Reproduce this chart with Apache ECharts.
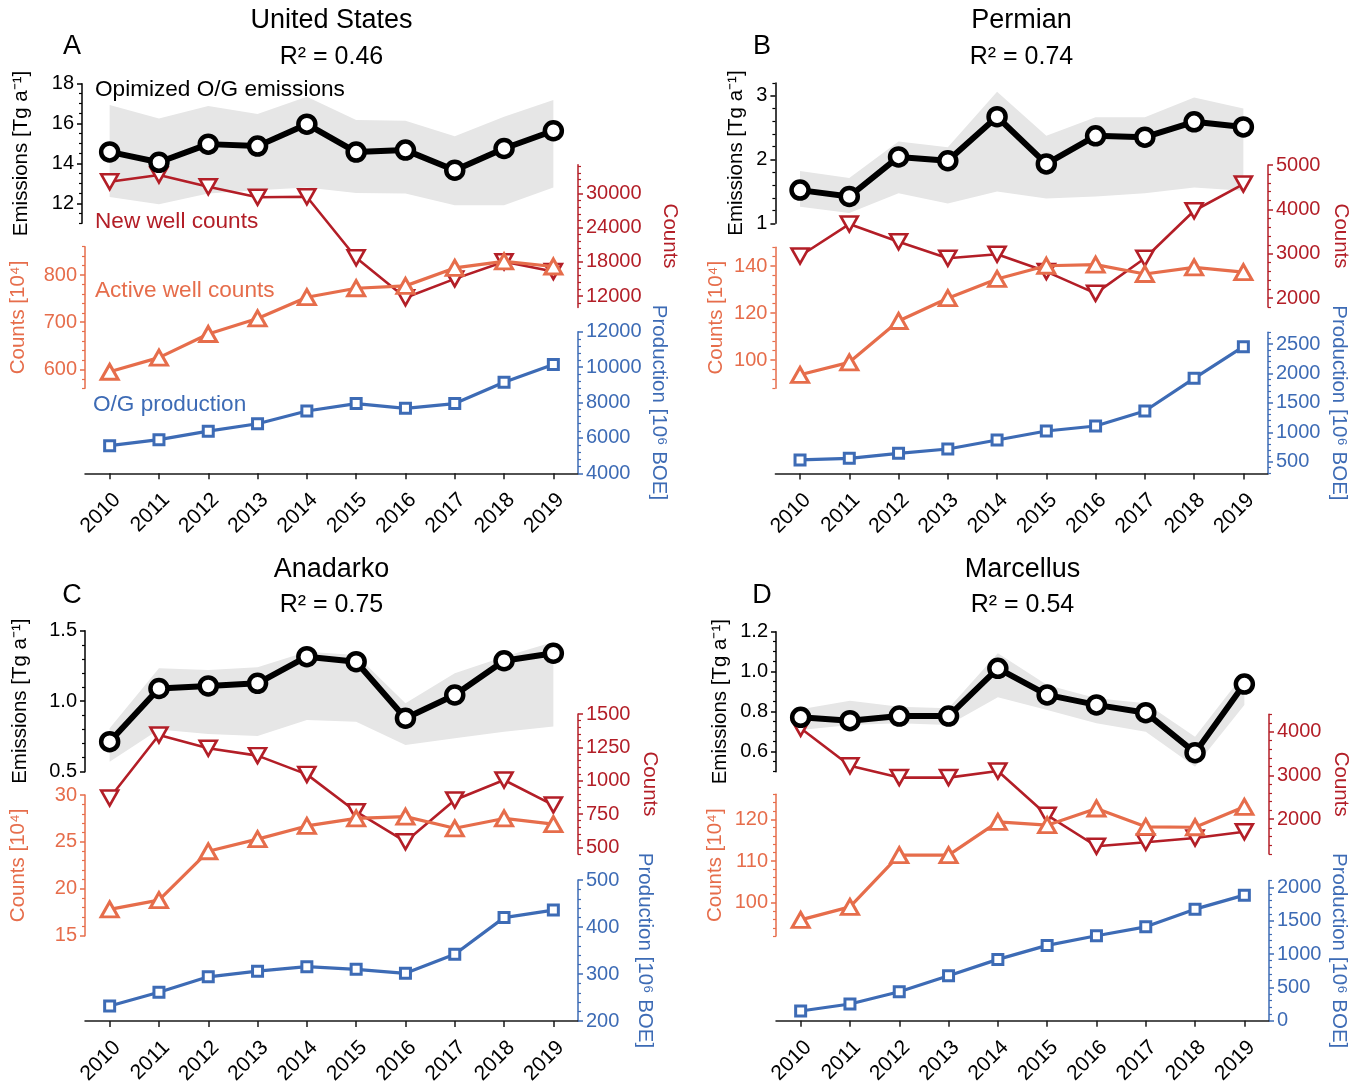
<!DOCTYPE html>
<html><head><meta charset="utf-8">
<script src="https://cdn.jsdelivr.net/npm/echarts@6/dist/echarts.min.js"></script>
<style>html,body{margin:0;padding:0;background:#fff}#c{width:1365px;height:1087px}</style>
</head><body><div id="c"></div><script>
const FONT = '"Liberation Sans", Arial, Helvetica, sans-serif';
const COLORS = {emis:'#000000', new:'#B31E27', active:'#E66D4B', prod:'#3D6BB5', band:'#E6E6E6', axis:'#1a1a1a'};

const years = ['2010','2011','2012','2013','2014','2015','2016','2017','2018','2019'];

// A: United States
const usEmis      = [14.58, 14.06, 14.97, 14.87, 15.97, 14.57, 14.67, 13.66, 14.75, 15.64];
const usEmisHigh  = [16.93, 16.26, 16.88, 16.48, 17.35, 16.18, 16.14, 15.37, 16.34, 17.18];
const usEmisLow   = [12.32, 11.95, 12.49, 12.66, 12.79, 12.52, 12.49, 11.90, 11.90, 12.79];
const usNewWells  = [32030, 33210, 31160, 29300, 29400, 18700, 11700, 15000, 18000, 16300];
const usActive    = [595, 625, 675, 708, 753, 772, 777, 815, 829, 818];
const usProd      = [5560, 5900, 6380, 6800, 7520, 7940, 7670, 7940, 9140, 10150];
const usEmisTicks = [12, 14, 16, 18];
const usNewTicks  = [12000, 18000, 24000, 30000];
const usActTicks  = [600, 700, 800];
const usProdTicks = [4000, 6000, 8000, 10000, 12000];

// B: Permian
const pmEmis      = [1.52, 1.42, 2.04, 1.98, 2.67, 1.93, 2.37, 2.35, 2.59, 2.51];
const pmEmisHigh  = [1.82, 1.71, 2.28, 2.19, 3.06, 2.37, 2.66, 2.66, 2.97, 2.80];
const pmEmisLow   = [1.26, 1.16, 1.47, 1.31, 1.50, 1.39, 1.42, 1.47, 1.56, 1.51];
const pmNewWells  = [2950, 3670, 3270, 2900, 2990, 2600, 2110, 2900, 3970, 4570];
const pmActive    = [93.7, 99.0, 116.6, 126.3, 134.5, 140.1, 140.6, 136.6, 139.4, 137.4];
const pmProd      = [530, 558, 643, 716, 869, 1022, 1107, 1362, 1918, 2455];
const pmEmisTicks = [1, 2, 3];
const pmNewTicks  = [2000, 3000, 4000, 5000];
const pmActTicks  = [100, 120, 140];
const pmProdTicks = [500, 1000, 1500, 2000, 2500];

// C: Anadarko
const anEmis      = [0.713, 1.090, 1.108, 1.127, 1.316, 1.280, 0.879, 1.044, 1.287, 1.340];
const anEmisHigh  = [0.808, 1.233, 1.221, 1.240, 1.350, 1.328, 0.985, 1.198, 1.316, 1.420];
const anEmisLow   = [0.571, 0.800, 0.767, 0.753, 0.867, 0.855, 0.689, 0.737, 0.784, 0.820];
const anNewWells  = [870, 1342, 1243, 1188, 1047, 767, 542, 855, 1005, 817];
const anActive    = [17.8, 18.8, 24.0, 25.3, 26.7, 27.5, 27.7, 26.45, 27.5, 26.9];
const anProd      = [232, 261, 294, 306, 315.5, 310, 301.5, 342, 420, 436];
const anEmisTicks = [0.5, 1.0, 1.5];
const anNewTicks  = [500, 750, 1000, 1250, 1500];
const anActTicks  = [15, 20, 25, 30];
const anProdTicks = [200, 300, 400, 500];

// D: Marcellus
const mcEmis      = [0.772, 0.755, 0.778, 0.778, 1.017, 0.884, 0.834, 0.795, 0.595, 0.938];
const mcEmisHigh  = [0.812, 0.855, 0.825, 0.817, 1.092, 0.934, 0.867, 0.842, 0.675, 0.992];
const mcEmisLow   = [0.708, 0.733, 0.742, 0.733, 0.872, 0.809, 0.742, 0.700, 0.525, 0.834];
const mcNewWells  = [4080, 3220, 2950, 2950, 3100, 2090, 1380, 1470, 1570, 1710];
const mcActive    = [95.9, 99.0, 111.4, 111.4, 119.4, 118.6, 122.6, 118.2, 118.1, 123.0];
const mcProd      = [145, 250, 434, 674, 919, 1129, 1273, 1407, 1672, 1882];
const mcEmisTicks = [0.6, 0.8, 1.0, 1.2];
const mcNewTicks  = [2000, 3000, 4000];
const mcActTicks  = [100, 110, 120];
const mcProdTicks = [0, 500, 1000, 1500, 2000];

const NAMES = {emis:'Emissions [Tg a\u207B\u00B9]', new:'Counts', active:'Counts [10\u2074]', prod:'Production [10\u2076 BOE]'};

const panels = [
  {title:'United States', r2:'R\u00B2 = 0.46', letter:'A', left:85, width:493, cx:331.5, tY:21, rY:57, lX:72, lY:47,
   data:{emis:usEmis, high:usEmisHigh, low:usEmisLow, new:usNewWells, active:usActive, prod:usProd},
   ticks:{emis:usEmisTicks, new:usNewTicks, active:usActTicks, prod:usProdTicks},
   axes:{emis:{min:11,max:18,top:83.7,bottom:223.3,minor:0.5,side:'left',offset:3,gap:50,dec:0},
         new:{min:10000,max:35000,top:164.8,bottom:307.4,minor:1200,side:'right',gap:81,dec:0},
         active:{min:560,max:860,top:246.7,bottom:388.3,minor:20,side:'left',gap:56,dec:0},
         prod:{min:4000,max:12000,top:331.7,bottom:473.3,minor:400,side:'right',gap:70,dec:0}}},
  {title:'Permian', r2:'R\u00B2 = 0.74', letter:'B', left:775.4, width:492.6, cx:1021.5, tY:21, rY:57, lX:762, lY:47,
   data:{emis:pmEmis, high:pmEmisHigh, low:pmEmisLow, new:pmNewWells, active:pmActive, prod:pmProd},
   ticks:{emis:pmEmisTicks, new:pmNewTicks, active:pmActTicks, prod:pmProdTicks},
   axes:{emis:{min:1,max:3.2,top:82.9,bottom:223.3,minor:0.2,side:'left',gap:29,dec:0},
         new:{min:1800,max:5000,top:165,bottom:307.1,minor:200,side:'right',gap:62,dec:0},
         active:{min:88,max:148,top:247.2,bottom:388.2,minor:4,side:'left',gap:49,dec:0},
         prod:{min:300,max:2700,top:332.3,bottom:473.5,minor:100,side:'right',gap:60,dec:0}}},
  {title:'Anadarko', r2:'R\u00B2 = 0.75', letter:'C', left:85, width:493, cx:331.5, tY:570, rY:605, lX:72, lY:596,
   data:{emis:anEmis, high:anEmisHigh, low:anEmisLow, new:anNewWells, active:anActive, prod:anProd},
   ticks:{emis:anEmisTicks, new:anNewTicks, active:anActTicks, prod:anProdTicks},
   axes:{emis:{min:0.5,max:1.5,top:630.7,bottom:771.7,minor:0.1,side:'left',gap:54,dec:1},
         new:{min:450,max:1500,top:714,bottom:854,minor:50,side:'right',gap:61,dec:0},
         active:{min:15,max:30,top:795,bottom:935.7,minor:1,side:'left',gap:56,dec:0},
         prod:{min:200,max:500,top:880,bottom:1021,minor:20,side:'right',gap:56,dec:0}}},
  {title:'Marcellus', r2:'R\u00B2 = 0.54', letter:'D', left:776, width:493, cx:1022.5, tY:570, rY:605, lX:762, lY:596,
   data:{emis:mcEmis, high:mcEmisHigh, low:mcEmisLow, new:mcNewWells, active:mcActive, prod:mcProd},
   ticks:{emis:mcEmisTicks, new:mcNewTicks, active:mcActTicks, prod:mcProdTicks},
   axes:{emis:{min:0.5,max:1.2,top:631.7,bottom:771.7,minor:0.05,side:'left',gap:45,dec:1},
         new:{min:1200,max:4400,top:714.2,bottom:854.1,minor:200,side:'right',gap:61,dec:0},
         active:{min:92,max:126,top:794.3,bottom:936.1,minor:2,side:'left',gap:50,dec:0},
         prod:{min:0,max:2100,top:880.6,bottom:1020.7,minor:100,side:'right',gap:59,dec:0}}}
];

const option = {animation:false, textStyle:{fontFamily:FONT}, grid:[], xAxis:[], yAxis:[], series:[], graphic:[]};

function xAxisDef(gi, show) {
  return {type:'category', gridIndex:gi, data:years, boundaryGap:true, show:show, position:'bottom',
    axisLine:{show:true, onZero:false, lineStyle:{color:COLORS.axis, width:1.5}},
    axisTick:{show:true, alignWithLabel:true, interval:0, length:6, lineStyle:{color:COLORS.axis, width:1.5}},
    axisLabel:{show:true, interval:0, rotate:45, align:'right', verticalAlign:'top', fontSize:21, color:'#000', margin:16, fontFamily:FONT},
    splitLine:{show:false}};
}

function minorValues(a, labels) {
  const out = [];
  const anchor = labels[0];
  const k0 = Math.ceil((a.min - anchor) / a.minor - 1e-6);
  const k1 = Math.floor((a.max - anchor) / a.minor + 1e-6);
  for (let k = k0; k <= k1; k++) {
    const v = +(anchor + k * a.minor).toFixed(6);
    if (!labels.some(l => Math.abs(l - v) < 1e-6)) out.push(v);
  }
  return out;
}

function addAxis(p, key, showX) {
  const a = p.axes[key], color = COLORS[key], labels = p.ticks[key];
  const grid = {left:p.left, width:p.width, top:a.top, height:a.bottom - a.top, containLabel:false, outerBoundsMode:'none'};
  const gi = option.grid.length;
  option.grid.push(grid);
  option.xAxis.push(xAxisDef(gi, showX));
  const yi = option.yAxis.length;
  option.yAxis.push({type:'value', gridIndex:gi, min:a.min, max:a.max, position:a.side, offset:a.offset || 0,
    name:NAMES[key], nameLocation:'middle', nameGap:a.gap, nameRotate:a.side === 'left' ? 90 : -90, nameMoveOverlap:false,
    nameTextStyle:{color:color, fontSize:20.5, fontFamily:FONT},
    axisLine:{show:true, onZero:false, lineStyle:{color:color, width:1.5}},
    axisTick:{show:true, length:5, customValues:labels, lineStyle:{color:color, width:1.5}},
    axisLabel:{show:true, customValues:labels, color:color, fontSize:20, fontFamily:FONT, margin:8,
      formatter: v => a.dec ? Number(v).toFixed(a.dec) : String(v)},
    splitLine:{show:false}});
  const gi2 = option.grid.length;
  option.grid.push(Object.assign({}, grid));
  option.xAxis.push(xAxisDef(gi2, false));
  option.yAxis.push({type:'value', gridIndex:gi2, min:a.min, max:a.max, position:a.side, offset:a.offset || 0,
    axisLine:{show:false}, axisLabel:{show:false}, splitLine:{show:false},
    axisTick:{show:true, length:3, customValues:minorValues(a, labels), lineStyle:{color:color, width:1.2}}});
  return {xi:gi, yi:yi};
}

panels.forEach(p => {
  const ax = {emis:addAxis(p,'emis',false), new:addAxis(p,'new',false), active:addAxis(p,'active',false), prod:addAxis(p,'prod',true)};
  const base = {type:'line', clip:false, emphasis:{disabled:true}, silent:true};
  const bandDiff = p.data.high.map((h, i) => +(h - p.data.low[i]).toFixed(4));
  option.series.push(Object.assign({}, base, {xAxisIndex:ax.emis.xi, yAxisIndex:ax.emis.yi, data:p.data.low,
    stack:'band' + p.letter, symbol:'none', lineStyle:{width:0, opacity:0}, z:1}));
  option.series.push(Object.assign({}, base, {xAxisIndex:ax.emis.xi, yAxisIndex:ax.emis.yi, data:bandDiff,
    stack:'band' + p.letter, symbol:'none', lineStyle:{width:0, opacity:0}, areaStyle:{color:COLORS.band, opacity:1}, z:1}));
  option.series.push(Object.assign({}, base, {xAxisIndex:ax.new.xi, yAxisIndex:ax.new.yi, data:p.data.new,
    symbol:'triangle', symbolRotate:180, symbolSize:[17,15], lineStyle:{color:COLORS.new, width:2.6},
    itemStyle:{color:'#fff', borderColor:COLORS.new, borderWidth:2.6}, z:3}));
  option.series.push(Object.assign({}, base, {xAxisIndex:ax.active.xi, yAxisIndex:ax.active.yi, data:p.data.active,
    symbol:'triangle', symbolSize:[17,15], lineStyle:{color:COLORS.active, width:3.2},
    itemStyle:{color:'#fff', borderColor:COLORS.active, borderWidth:3}, z:4}));
  option.series.push(Object.assign({}, base, {xAxisIndex:ax.prod.xi, yAxisIndex:ax.prod.yi, data:p.data.prod,
    symbol:'rect', symbolSize:10, lineStyle:{color:COLORS.prod, width:3.2},
    itemStyle:{color:'#fff', borderColor:COLORS.prod, borderWidth:3}, z:4}));
  option.series.push(Object.assign({}, base, {xAxisIndex:ax.emis.xi, yAxisIndex:ax.emis.yi, data:p.data.emis,
    symbol:'circle', symbolSize:17, lineStyle:{color:COLORS.emis, width:6},
    itemStyle:{color:'#fff', borderColor:COLORS.emis, borderWidth:4.5}, z:6}));

  const txt = (x, y, text, size, fill, align) => ({type:'text', x:x, y:y, silent:true,
    style:{text:text, fill:fill, fontSize:size, fontFamily:FONT, align:align || 'center', verticalAlign:'middle'}});
  option.graphic.push(txt(p.cx, p.tY, p.title, 27, '#000'));
  option.graphic.push(txt(p.cx, p.rY, p.r2, 25, '#000'));
  option.graphic.push(txt(p.lX, p.lY, p.letter, 27, '#000'));
});

// annotations in panel A
const ann = [
  {t:'Opimized O/G emissions', x:95, y:90, c:COLORS.emis},
  {t:'New well counts', x:95, y:222, c:COLORS.new},
  {t:'Active well counts', x:95, y:291, c:COLORS.active},
  {t:'O/G production', x:93, y:405, c:COLORS.prod}
];
ann.forEach(a => option.graphic.push({type:'text', x:a.x, y:a.y, silent:true,
  style:{text:a.t, fill:a.c, fontSize:22.6, fontFamily:FONT, align:'left', verticalAlign:'middle'}}));

const chart = echarts.init(document.getElementById('c'), null, {renderer:'canvas'});
chart.setOption(option);
</script></body></html>
